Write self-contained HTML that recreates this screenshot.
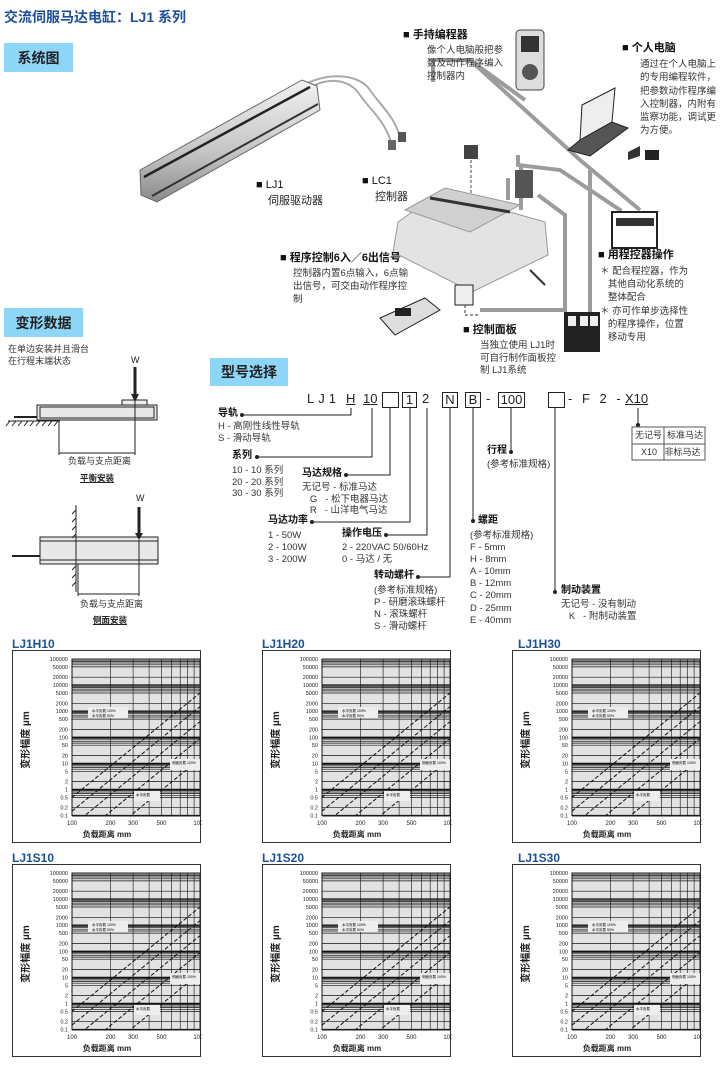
<!DOCTYPE html>
<html><head><meta charset="utf-8">
<style>
body{margin:0;background:#fff;}
#pg{position:relative;width:720px;height:1065px;overflow:hidden;font-family:"Liberation Sans","Noto Sans CJK SC",sans-serif;color:#222;}
.t{position:absolute;white-space:nowrap;line-height:1;}
.s{font-size:9.5px;color:#333;}
.h{font-size:11px;font-weight:bold;color:#111;}
.sec{position:absolute;background:#8ed6f7;font-size:14px;font-weight:bold;color:#222;display:flex;align-items:center;justify-content:center;font-family:"Noto Sans CJK SC",sans-serif;}
.ct{position:absolute;font-size:12px;font-weight:bold;color:#1a4f9c;}
.ch{position:absolute;width:190px;height:194px;}
.bx{position:absolute;border:1px solid #222;height:14px;top:392px;}
</style></head><body><div id="pg">

<div class="t" style="left:4px;top:10px;font-size:14px;font-weight:bold;color:#1f4f9c;">交流伺服马达电缸：LJ1 系列</div>
<div class="sec" style="left:4px;top:43px;width:69px;height:29px;">系统图</div>
<div class="sec" style="left:4px;top:308px;width:79px;height:29px;">变形数据</div>
<div class="sec" style="left:210px;top:358px;width:78px;height:28px;">型号选择</div>

<svg style="position:absolute;left:0;top:0" width="720" height="640">
<defs><linearGradient id="g1" x1="0" y1="0" x2="0" y2="1"><stop offset="0" stop-color="#f2f2f2"/><stop offset="0.6" stop-color="#c4c4c4"/><stop offset="1" stop-color="#8a8a8a"/></linearGradient></defs>
<!-- cables -->
<g fill="none" stroke="#9c9c9c" stroke-width="4">
<path d="M433 82 L433 60 L470 60 L580 160 L640 210"/>
<path d="M470 60 L525 100"/>
<path d="M590 170 L590 335"/>
<path d="M518 155 L518 165 L560 170 L620 210 L620 215"/>
<path d="M521 165 L521 210"/>
<path d="M508 178 L508 200"/>
<path d="M538 195 L565 215 L565 310 L480 310"/>
</g>
<path d="M305 90 C330 75,350 80,360 95 C370 110,385 120,392 145 M300 87 C330 70,360 75,370 90 C380 105,398 120,400 140" fill="none" stroke="#aaa" stroke-width="2"/>
<!-- actuator -->
<polygon points="140,170 302,80 317,86 320,110 157,202 141,195" fill="url(#g1)" stroke="#666"/>
<line x1="144" y1="177" x2="310" y2="87" stroke="#222" stroke-width="2.5"/>
<line x1="152" y1="196" x2="318" y2="104" stroke="#333" stroke-width="2"/>
<rect x="388" y="140" width="8" height="10" fill="#666"/><rect x="398" y="132" width="8" height="10" fill="#555"/>
<!-- handheld -->
<rect x="516" y="30" width="28" height="60" rx="4" fill="#ddd" stroke="#444"/>
<rect x="521" y="36" width="18" height="16" fill="#333"/><circle cx="530" cy="72" r="8" fill="#555"/>
<!-- laptop -->
<polygon points="582,105 615,88 612,122 580,140" fill="#eee" stroke="#222"/>
<polygon points="568,150 580,140 612,122 628,128 590,156" fill="#555" stroke="#222"/>
<polygon points="628,152 640,146 640,156 628,160" fill="#333"/>
<rect x="645" y="150" width="14" height="10" fill="#222"/>
<!-- small connectors -->
<rect x="464" y="145" width="14" height="14" fill="#444"/>
<line x1="471" y1="160" x2="471" y2="205" stroke="#444" stroke-dasharray="3,2"/>
<!-- controller -->
<polygon points="398,222 440,192 545,222 548,255 472,292 393,252" fill="#e3e3e3" stroke="#999"/>
<polygon points="405,210 445,188 520,205 470,232" fill="#d0d0d0" stroke="#999"/>
<line x1="430" y1="198" x2="510" y2="212" stroke="#333" stroke-width="3"/>
<rect x="515" y="170" width="18" height="28" fill="#555"/>
<!-- PLC -->
<rect x="612" y="212" width="45" height="36" fill="#fff" stroke="#222" stroke-width="2"/>
<rect x="616" y="218" width="38" height="8" fill="#333"/>
<!-- servos -->
<polygon points="380,318 425,298 440,310 395,335" fill="#ddd" stroke="#222"/>
<rect x="395" y="308" width="16" height="8" fill="#222"/>
<rect x="455" y="285" width="18" height="20" fill="#eee" stroke="#222"/>
<path d="M465 305 L465 315 L480 315" fill="none" stroke="#333" stroke-dasharray="3,2"/>
<line x1="530" y1="270" x2="545" y2="285" stroke="#333" stroke-width="2"/>
<!-- panel -->
<rect x="564" y="312" width="36" height="40" fill="#222"/>
<rect x="568" y="316" width="8" height="10" fill="#eee"/><rect x="580" y="316" width="8" height="10" fill="#eee"/><rect x="590" y="316" width="8" height="10" fill="#eee"/>
<!-- deformation drawings -->
<g stroke="#222" fill="none">
<rect x="37" y="405" width="120" height="15" fill="#e8e8e8"/>
<rect x="40" y="407" width="114" height="11"/>
<rect x="122" y="400" width="25" height="5" fill="#eee"/>
<line x1="14" y1="417" x2="37" y2="417" stroke-width="2"/>
<line x1="8" y1="421" x2="60" y2="421"/>
<line x1="59" y1="421" x2="59" y2="455"/><line x1="135" y1="400" x2="135" y2="455"/>
<line x1="59" y1="453" x2="135" y2="453"/>
<line x1="135" y1="367" x2="135" y2="396" stroke-width="3"/>
<rect x="40" y="537" width="118" height="27" fill="#e8e8e8"/>
<line x1="40" y1="541" x2="158" y2="541"/><line x1="40" y1="560" x2="158" y2="560"/>
<line x1="12" y1="556" x2="40" y2="556" stroke-width="2"/>
<line x1="76" y1="505" x2="76" y2="592"/>
<line x1="78" y1="564" x2="78" y2="596"/><line x1="139" y1="540" x2="139" y2="596"/>
<line x1="78" y1="594" x2="139" y2="594"/>
<line x1="139" y1="507" x2="139" y2="535" stroke-width="3"/>
</g>
<path d="M10 421 l-4 5 M16 421 l-4 5 M22 421 l-4 5 M28 421 l-4 5 M34 421 l-4 5 M40 421 l-4 5 M46 421 l-4 5 M52 421 l-4 5 M58 421 l-4 5" stroke="#222"/>
<path d="M76 510 l-4 4 M76 518 l-4 4 M76 526 l-4 4 M76 534 l-4 4 M76 566 l-4 4 M76 574 l-4 4 M76 582 l-4 4" stroke="#222"/>
<polygon points="131,394 139,394 135,402" fill="#222"/><polygon points="135,533 143,533 139,540" fill="#222"/>
<!-- model connectors -->
<g stroke="#222" fill="none">
<path d="M242 415 H351 V408"/><path d="M257 457 H372 V408"/><path d="M346 475 H390 V408"/>
<path d="M312 522 H410 V408"/><path d="M386 535 H427 V408"/><path d="M418 577 H450 V408"/>
<path d="M473 520 V408"/><path d="M511 452 V408"/><path d="M555 592 V408"/><path d="M638 425 V408"/>
</g>
<g fill="#222"><circle cx="242" cy="415" r="2"/><circle cx="257" cy="457" r="2"/><circle cx="346" cy="475" r="2"/><circle cx="312" cy="522" r="2"/><circle cx="386" cy="535" r="2"/><circle cx="418" cy="577" r="2"/><circle cx="473" cy="521" r="2"/><circle cx="511" cy="452" r="2"/><circle cx="555" cy="592" r="2"/><circle cx="638" cy="425" r="2"/></g>
<g stroke="#555" fill="none"><rect x="632" y="427" width="73" height="33"/><line x1="632" y1="444" x2="705" y2="444"/><line x1="664" y1="427" x2="664" y2="460"/></g>
</svg>

<!-- system texts -->
<div class="t h" style="left:403px;top:30px;">■ 手持编程器</div>
<div class="t s" style="left:427px;top:44px;line-height:13px;">像个人电脑般把参<br>数及动作程序编入<br>控制器内</div>
<div class="t h" style="left:622px;top:43px;">■ 个人电脑</div>
<div class="t s" style="left:640px;top:58px;line-height:13.3px;">通过在个人电脑上<br>的专用编程软件，<br>把参数动作程序编<br>入控制器，内附有<br>监察功能，调试更<br>为方便。</div>
<div class="t h" style="left:256px;top:180px;font-weight:normal;">■ LJ1</div>
<div class="t" style="left:268px;top:196px;font-size:11px;">伺服驱动器</div>
<div class="t h" style="left:362px;top:176px;font-weight:normal;">■ LC1</div>
<div class="t" style="left:375px;top:192px;font-size:11px;">控制器</div>
<div class="t h" style="left:280px;top:253px;">■ 程序控制6入／6出信号</div>
<div class="t s" style="left:293px;top:267px;line-height:13px;">控制器内置6点输入，6点输<br>出信号，可交由动作程序控<br>制</div>
<div class="t h" style="left:598px;top:250px;">■ 用程控器操作</div>
<div class="t s" style="left:600px;top:265px;line-height:13.2px;">＊ 配合程控器，作为<br>&nbsp;&nbsp;&nbsp;其他自动化系统的<br>&nbsp;&nbsp;&nbsp;整体配合<br>＊ 亦可作单步选择性<br>&nbsp;&nbsp;&nbsp;的程序操作，位置<br>&nbsp;&nbsp;&nbsp;移动专用</div>
<div class="t h" style="left:463px;top:325px;">■ 控制面板</div>
<div class="t s" style="left:480px;top:340px;line-height:12.5px;">当独立使用 LJ1时<br>可自行制作面板控<br>制 LJ1系统</div>

<!-- deformation texts -->
<div class="t s" style="left:8px;top:343px;font-size:9px;line-height:12px;">在单边安装并且滑台<br>在行程末端状态</div>
<div class="t" style="left:131px;top:356px;font-size:9px;">W</div>
<div class="t s" style="left:68px;top:457px;font-size:9px;">负载与支点距离</div>
<div class="t" style="left:80px;top:474px;font-size:8.5px;font-weight:bold;text-decoration:underline;">平衡安装</div>
<div class="t" style="left:136px;top:494px;font-size:9px;">W</div>
<div class="t s" style="left:80px;top:600px;font-size:9px;">负载与支点距离</div>
<div class="t" style="left:93px;top:616px;font-size:8.5px;font-weight:bold;text-decoration:underline;">侧面安装</div>

<!-- model code -->
<div class="t" style="left:307px;top:392px;font-size:13px;letter-spacing:4px;">LJ1</div>
<div class="t" style="left:346px;top:392px;font-size:13px;text-decoration:underline;">H</div>
<div class="t" style="left:363px;top:392px;font-size:13px;text-decoration:underline;">10</div>
<div class="bx" style="left:382px;width:15px;"></div>
<div class="bx" style="left:402px;width:13px;font-size:13px;text-align:center;line-height:14px;">1</div>
<div class="t" style="left:422px;top:392px;font-size:13px;">2</div>
<div class="bx" style="left:442px;width:14px;font-size:13px;text-align:center;line-height:14px;">N</div>
<div class="bx" style="left:465px;width:14px;font-size:13px;text-align:center;line-height:14px;">B</div>
<div class="t" style="left:486px;top:392px;font-size:13px;">-</div>
<div class="bx" style="left:498px;width:25px;font-size:13px;text-align:center;line-height:14px;">100</div>
<div class="bx" style="left:548px;width:15px;"></div>
<div class="t" style="left:568px;top:392px;font-size:13px;letter-spacing:3px;">- F 2 -</div>
<div class="t" style="left:625px;top:392px;font-size:13px;text-decoration:underline;">X10</div>

<div class="t h" style="left:218px;top:409px;font-size:10px;">导轨</div>
<div class="t s" style="left:218px;top:422px;">H - 高刚性线性导轨</div>
<div class="t s" style="left:218px;top:434px;">S - 滑动导轨</div>
<div class="t h" style="left:232px;top:451px;font-size:10px;">系列</div>
<div class="t s" style="left:232px;top:465px;line-height:11.5px;">10 - 10 系列<br>20 - 20 系列<br>30 - 30 系列</div>
<div class="t h" style="left:302px;top:469px;font-size:10px;">马达规格</div>
<div class="t s" style="left:302px;top:482px;line-height:11.5px;">无记号 - 标准马达<br>&nbsp;&nbsp;&nbsp;G &nbsp;&nbsp;- 松下电器马达<br>&nbsp;&nbsp;&nbsp;R &nbsp;&nbsp;- 山洋电气马达</div>
<div class="t h" style="left:268px;top:516px;font-size:10px;">马达功率</div>
<div class="t s" style="left:268px;top:530px;line-height:12px;">1 - 50W<br>2 - 100W<br>3 - 200W</div>
<div class="t h" style="left:342px;top:529px;font-size:10px;">操作电压</div>
<div class="t s" style="left:342px;top:542px;line-height:11.5px;">2 - 220VAC 50/60Hz<br>0 - 马达 / 无</div>
<div class="t h" style="left:374px;top:571px;font-size:10px;">转动螺杆</div>
<div class="t s" style="left:374px;top:585px;line-height:12px;">(参考标准规格)<br>P - 研磨滚珠螺杆<br>N - 滚珠螺杆<br>S - 滑动螺杆</div>
<div class="t h" style="left:487px;top:446px;font-size:10px;">行程</div>
<div class="t s" style="left:487px;top:460px;">(参考标准规格)</div>
<div class="t h" style="left:478px;top:516px;font-size:10px;">螺距</div>
<div class="t s" style="left:470px;top:530px;line-height:12.1px;">(参考标准规格)<br>F - 5mm<br>H - 8mm<br>A - 10mm<br>B - 12mm<br>C - 20mm<br>D - 25mm<br>E - 40mm</div>
<div class="t h" style="left:561px;top:586px;font-size:10px;">制动装置</div>
<div class="t s" style="left:561px;top:599px;line-height:12px;">无记号 - 没有制动<br>&nbsp;&nbsp;&nbsp;K &nbsp;&nbsp;- 附制动装置</div>
<div class="t s" style="left:635px;top:431px;font-size:9px;">无记号 &nbsp;标准马达</div>
<div class="t s" style="left:641px;top:448px;font-size:9px;">X10 &nbsp;&nbsp;非标马达</div>

<!-- charts -->
<div class="ct" style="left:12px;top:637px;">LJ1H10</div>
<div class="ct" style="left:262px;top:637px;">LJ1H20</div>
<div class="ct" style="left:518px;top:637px;">LJ1H30</div>
<div class="ct" style="left:12px;top:851px;">LJ1S10</div>
<div class="ct" style="left:262px;top:851px;">LJ1S20</div>
<div class="ct" style="left:518px;top:851px;">LJ1S30</div>
<div class="ch" style="left:12px;top:650px;"></div>
<div class="ch" style="left:262px;top:650px;"></div>
<div class="ch" style="left:512px;top:650px;"></div>
<div class="ch" style="left:12px;top:864px;"></div>
<div class="ch" style="left:262px;top:864px;"></div>
<div class="ch" style="left:512px;top:864px;"></div>
</div>
<script>
(function(){
var X=function(v){return 60+(Math.log10(v)-2)*128;};
var Y=function(v){return 9+(5-Math.log10(v))*26.1;};
var s='<svg width="190" height="194" xmlns="http://www.w3.org/2000/svg" font-family="Liberation Sans,Noto Sans CJK SC,sans-serif">';
s+='<rect x="0.5" y="0.5" width="188" height="192" fill="#fff" stroke="#333"/>';
s+='<rect x="60" y="9" width="128" height="157" fill="#e2e2e2" stroke="#222"/>';
for(var d=-1;d<5;d++)[1,2,5,6,7,8,9].forEach(function(m){var y=Y(m*Math.pow(10,d));s+='<line x1="60" x2="188" y1="'+y.toFixed(1)+'" y2="'+y.toFixed(1)+'" stroke="#111" stroke-width="'+(m==1?1.4:0.7)+'"/>';});
for(var v=100;v<=1000;v+=100){var x=X(v);s+='<line y1="9" y2="166" x1="'+x.toFixed(1)+'" x2="'+x.toFixed(1)+'" stroke="#111" stroke-width="'+(v==100||v==1000?1:0.6)+'"/>';}
[5000,1500,400,90,15].forEach(function(e){var y2=Y(e),y1=y2+0.816*128;s+='<line x1="60" y1="'+y1.toFixed(1)+'" x2="188" y2="'+y2.toFixed(1)+'" stroke="#111" stroke-width="1" stroke-dasharray="4,2"/>';});
s+='<rect x="0" y="166" width="190" height="28" fill="#fff"/><rect x="0.5" y="0.5" width="188" height="192" fill="none" stroke="#333"/><line x1="60" y1="166" x2="188" y2="166" stroke="#222"/><line x1="188" y1="9" x2="188" y2="166" stroke="#222"/>';
['100000','50000','20000','10000','5000','2000','1000','500','200','100','50','20','10','5','2','1','0.5','0.2','0.1'].forEach(function(t){s+='<text x="56" y="'+(Y(parseFloat(t))+2).toFixed(1)+'" font-size="5.5" text-anchor="end" fill="#222">'+t+'</text>';});
[[100,'100'],[200,'200'],[300,'300'],[500,'500'],[1000,'1000']].forEach(function(a){s+='<text x="'+X(a[0]).toFixed(1)+'" y="175" font-size="6" text-anchor="middle" fill="#222">'+a[1]+'</text>';});
s+='<text x="95" y="187" font-size="8" font-weight="bold" text-anchor="middle" fill="#222">负载距离 mm</text>';
s+='<text transform="translate(17,90) rotate(-90)" font-size="10" font-weight="bold" text-anchor="middle" fill="#222">变形幅度 µm</text>';
s+='<rect x="76" y="57" width="40" height="11" fill="#eee"/><text x="80" y="62" font-size="3.5">水平负载 100%</text><text x="80" y="67" font-size="3.5">水平负载 50%</text>';
s+='<rect x="158" y="109" width="30" height="11" fill="#eee"/><text x="160" y="114" font-size="3.5">侧面负载 100%</text>';
s+='<rect x="122" y="141" width="26" height="10" fill="#eee"/><text x="124" y="146" font-size="3.5">水平负载</text>';
s+='</svg>';
var c=document.querySelectorAll('.ch');for(var i=0;i<c.length;i++)c[i].innerHTML=s;
})();
</script>
</body></html>
